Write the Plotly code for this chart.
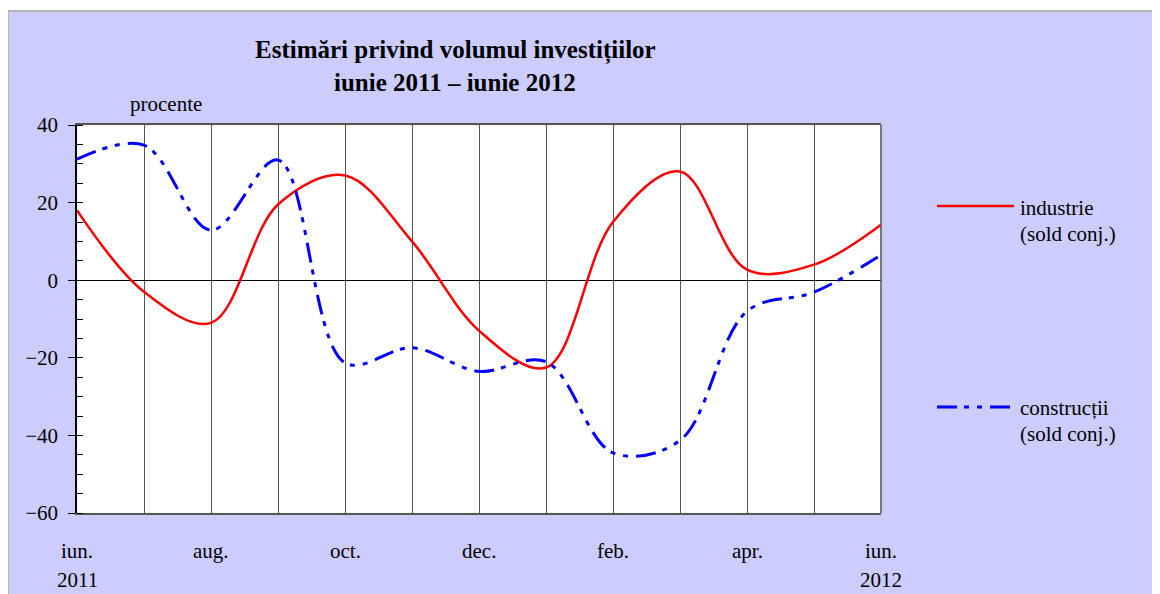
import plotly.graph_objects as go

# ---- data ----
months = ["iun.", "iul.", "aug.", "sep.", "oct.", "nov.", "dec.",
          "ian.", "feb.", "mar.", "apr.", "mai", "iun."]
industrie = [18, -3, -11, 19.5, 27, 10, -13, -22.5, 15, 28, 2.7, 4, 14.3]
constructii = [31.2, 34.8, 12.9, 31, -21.3, -17.4, -23.5, -21, -44.5, -41.3, -8, -3.1, 6.5]
label_months = ["iun.", "aug.", "oct.", "dec.", "feb.", "apr.", "iun."]
label_pos = [0, 2, 4, 6, 8, 10, 12]
label_years = {0: "2011", 12: "2012"}
y_ticks = [-60, -40, -20, 0, 20, 40]
series_names = ["industrie", "construcții"]
series_sub = "(sold conj.)"
title1 = "Estimări privind volumul investițiilor"
title2 = "iunie 2011 – iunie 2012"
unit_label = "procente"

FONT = "Liberation Serif"
LAV = "#CCCCFF"
RED = "#FF0000"
BLUE = "#0000FF"
DASH = "20px,7px,5px,8px,5px,8px"

# page offset of the figure (body margin)
OFF = 8
W, H = 1160 - OFF, 594 - OFF
# plot area in page px: x 77..881, y 125..513
PL, PR, PT, PB = 77, 881, 125, 513
L, R, T, B = PL - OFF, PR - OFF, PT - OFF, PB - OFF

def px(x):  # page px -> paper x
    return (x - PL) / (PR - PL)
def py(y):  # page px -> paper y
    return (PB - y) / (PB - PT)

xs = list(range(len(months)))

fig = go.Figure()
fig.add_trace(go.Scatter(x=xs, y=industrie, mode="lines", name=series_names[0],
                         line=dict(color=RED, width=2.5, shape="spline", smoothing=1),
                         showlegend=False))
fig.add_trace(go.Scatter(x=xs, y=constructii, mode="lines", name=series_names[1],
                         line=dict(color=BLUE, width=3, shape="spline", smoothing=1, dash=DASH),
                         showlegend=False))

shapes = [
    dict(type="rect", xref="paper", yref="paper", x0=px(8), x1=px(1175), y0=py(610), y1=py(11),
         fillcolor=LAV, line=dict(color="#B4B4B4", width=2), layer="below"),
    dict(type="rect", xref="paper", yref="paper", x0=0, x1=1, y0=0, y1=1,
         fillcolor="white", line=dict(width=0), layer="below"),
    dict(type="line", xref="paper", yref="paper", x0=1, x1=1, y0=0, y1=1,
         line=dict(color="#555555", width=1.5)),
    # legend lines
    dict(type="line", xref="paper", yref="paper", x0=px(937), x1=px(1014), y0=py(206), y1=py(206),
         line=dict(color=RED, width=2.5)),
    dict(type="line", xref="paper", yref="paper", x0=px(937), x1=px(1014), y0=py(407), y1=py(407),
         line=dict(color=BLUE, width=3, dash=DASH)),
]

annotations = [
    dict(text="<b>%s</b>" % title1, x=px(455), y=py(50), xref="paper", yref="paper",
         showarrow=False, xanchor="center", yanchor="middle", font=dict(size=25)),
    dict(text="<b>%s</b>" % title2, x=px(455), y=py(83), xref="paper", yref="paper",
         showarrow=False, xanchor="center", yanchor="middle", font=dict(size=25)),
    dict(text=unit_label, x=px(166), y=py(104), xref="paper", yref="paper",
         showarrow=False, xanchor="center", yanchor="middle", font=dict(size=21)),
    dict(text=series_names[0], x=px(1018), y=py(208), xref="paper", yref="paper",
         showarrow=False, xanchor="left", yanchor="middle", font=dict(size=21)),
    dict(text=series_sub, x=px(1018), y=py(234), xref="paper", yref="paper",
         showarrow=False, xanchor="left", yanchor="middle", font=dict(size=21)),
    dict(text=series_names[1], x=px(1018), y=py(408), xref="paper", yref="paper",
         showarrow=False, xanchor="left", yanchor="middle", font=dict(size=21)),
    dict(text=series_sub, x=px(1018), y=py(434), xref="paper", yref="paper",
         showarrow=False, xanchor="left", yanchor="middle", font=dict(size=21)),
]
for pos, lab in zip(label_pos, label_months):
    annotations.append(dict(text=lab, x=pos, y=py(551), xref="x", yref="paper",
                            showarrow=False, xanchor="center", yanchor="middle",
                            font=dict(size=21)))
for pos, yr in label_years.items():
    annotations.append(dict(text=yr, x=pos, y=py(580), xref="x", yref="paper",
                            showarrow=False, xanchor="center", yanchor="middle",
                            font=dict(size=21)))

fig.update_layout(
    width=W, height=H,
    margin=dict(l=L, r=W - R, t=T, b=H - B, pad=0),
    paper_bgcolor="white", plot_bgcolor="white",
    font=dict(family=FONT, color="black", size=21),
    shapes=shapes, annotations=annotations,
    xaxis=dict(range=[0, 12], tickvals=xs, showticklabels=False, ticks="",
               showgrid=True, gridcolor="#555555", gridwidth=1.2,
               showline=True, linecolor="#555555", linewidth=1.5, mirror=True,
               zeroline=False, fixedrange=True),
    yaxis=dict(range=[-60, 40], tickvals=y_ticks, ticks="outside", ticklen=7,
               tickcolor="black", tickwidth=1.2, ticklabelstandoff=6,
               showgrid=False, showline=True, linecolor="black", linewidth=1.5,
               zeroline=True, zerolinecolor="black", zerolinewidth=1.2,
               minor=dict(dtick=5, ticks="inside", ticklen=6, tickcolor="black",
                          tickwidth=1.2, showgrid=False),
               fixedrange=True),
)

fig.write_html("out.html")
